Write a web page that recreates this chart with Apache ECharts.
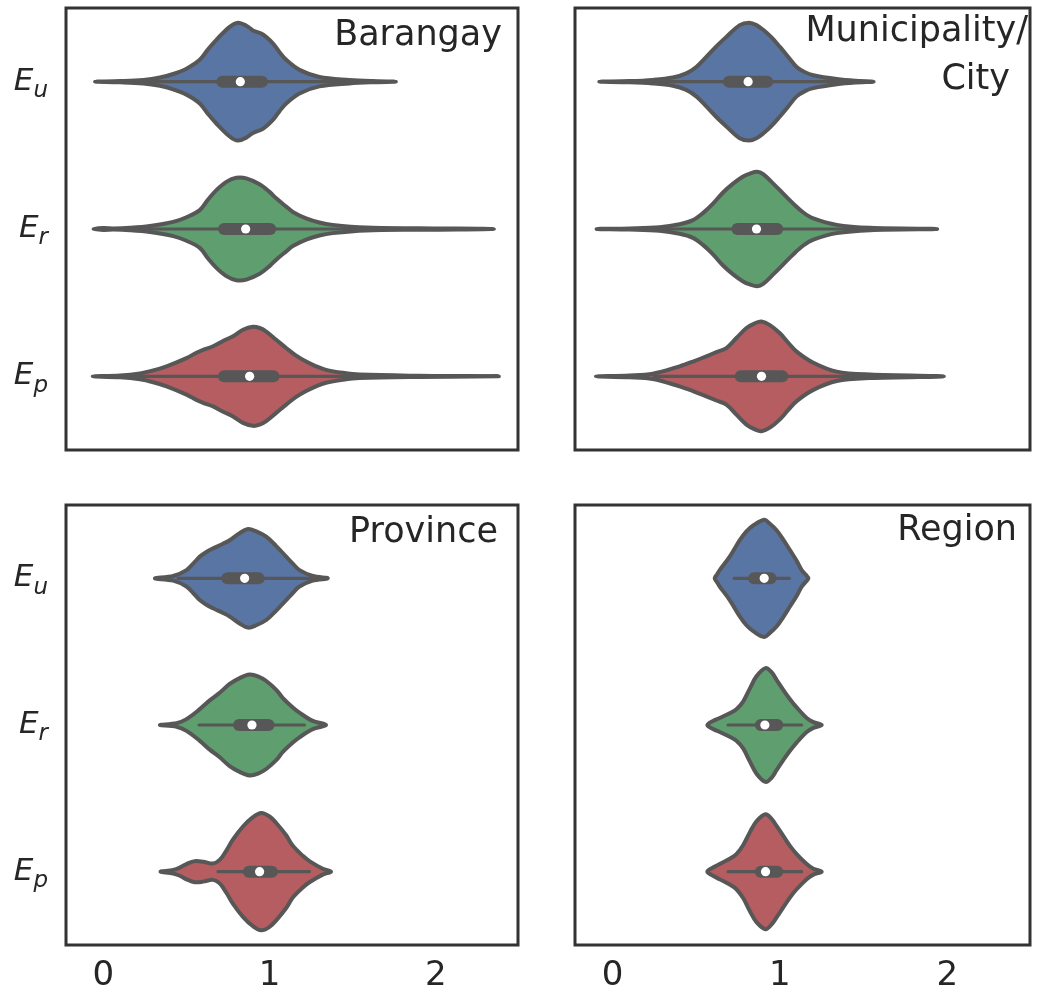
<!DOCTYPE html>
<html>
<head>
<meta charset="utf-8">
<script src="https://cdn.jsdelivr.net/npm/echarts@6/dist/echarts.min.js"></script>
<style>html,body{margin:0;padding:0;background:#fff}#c{width:1037px;height:993px}</style>
</head>
<body>
<div id="c"></div>
<script>
// ---------- data ----------
const categories = ['E_u', 'E_r', 'E_p'];
const panelTitles = ['Barangay', 'Municipality/', 'City', 'Province', 'Region'];
const xTicks = [0, 1, 2];

// violin profiles: [value, relative half-width (1 = widest)]
const barangayEu = [[-0.05,0],[0.1,0.01],[0.24,0.03],[0.34,0.07],[0.42,0.13],[0.5,0.22],[0.58,0.37],[0.63,0.55],[0.68,0.71],[0.76,0.93],[0.81,1.0],[0.86,0.95],[0.9,0.87],[0.96,0.8],[1.02,0.65],[1.06,0.5],[1.1,0.37],[1.18,0.2],[1.3,0.08],[1.48,0.03],[1.62,0.01],[1.76,0]];
const barangayEr = [[-0.06,0],[0.0,0.015],[0.06,0.01],[0.16,0.02],[0.28,0.05],[0.42,0.12],[0.5,0.2],[0.58,0.32],[0.63,0.5],[0.68,0.66],[0.74,0.8],[0.8,0.87],[0.86,0.86],[0.94,0.76],[1.0,0.63],[1.04,0.52],[1.1,0.38],[1.14,0.29],[1.22,0.18],[1.3,0.11],[1.38,0.07],[1.58,0.025],[1.9,0.012],[2.35,0]];
const barangayEp = [[-0.064,0],[0.1,0.015],[0.22,0.05],[0.3,0.1],[0.38,0.17],[0.5,0.31],[0.56,0.4],[0.6,0.45],[0.66,0.51],[0.72,0.6],[0.78,0.68],[0.84,0.79],[0.9,0.84],[0.94,0.82],[0.98,0.76],[1.04,0.62],[1.1,0.48],[1.16,0.35],[1.22,0.25],[1.28,0.17],[1.34,0.11],[1.44,0.06],[1.54,0.03],[1.9,0.01],[2.38,0]];
const municipalityEu = [[-0.08,0],[0.1,0.01],[0.24,0.03],[0.36,0.07],[0.44,0.14],[0.5,0.25],[0.56,0.42],[0.62,0.6],[0.68,0.76],[0.76,0.96],[0.816,1.0],[0.86,0.96],[0.9,0.88],[0.95,0.75],[1.0,0.59],[1.05,0.42],[1.1,0.25],[1.15,0.16],[1.2,0.11],[1.34,0.045],[1.45,0.015],[1.56,0]];
const municipalityEr = [[-0.096,0],[0.1,0.01],[0.28,0.03],[0.4,0.08],[0.48,0.15],[0.54,0.27],[0.6,0.43],[0.66,0.62],[0.72,0.77],[0.78,0.89],[0.82,0.94],[0.864,0.97],[0.9,0.93],[0.96,0.77],[1.02,0.6],[1.08,0.43],[1.14,0.28],[1.2,0.18],[1.34,0.07],[1.54,0.02],[1.94,0]];
const municipalityEp = [[-0.1,0],[0.1,0.015],[0.24,0.045],[0.4,0.17],[0.48,0.25],[0.56,0.34],[0.62,0.41],[0.68,0.48],[0.74,0.65],[0.8,0.82],[0.85,0.9],[0.89,0.93],[0.94,0.87],[1.0,0.73],[1.05,0.57],[1.1,0.42],[1.2,0.23],[1.34,0.08],[1.54,0.03],[1.98,0]];
const provinceEu = [[0.31,0],[0.42,0.04],[0.5,0.14],[0.55,0.28],[0.58,0.37],[0.62,0.45],[0.66,0.51],[0.72,0.59],[0.76,0.65],[0.82,0.77],[0.87,0.84],[0.92,0.8],[0.98,0.71],[1.04,0.55],[1.1,0.37],[1.14,0.25],[1.18,0.14],[1.26,0.04],[1.35,0]];
const provinceEr = [[0.34,0],[0.44,0.03],[0.5,0.1],[0.58,0.27],[0.64,0.42],[0.7,0.55],[0.76,0.7],[0.82,0.8],[0.88,0.86],[0.93,0.83],[0.98,0.75],[1.04,0.6],[1.08,0.46],[1.14,0.3],[1.18,0.21],[1.26,0.07],[1.34,0]];
const provinceEp = [[0.344,0],[0.42,0.03],[0.46,0.07],[0.5,0.13],[0.55,0.18],[0.6,0.17],[0.66,0.14],[0.7,0.2],[0.74,0.36],[0.78,0.55],[0.84,0.77],[0.9,0.93],[0.95,1.0],[1.0,0.94],[1.04,0.83],[1.1,0.62],[1.14,0.44],[1.2,0.27],[1.24,0.18],[1.32,0.05],[1.37,0]];
const regionEu = [[0.61,0],[0.625,0.07],[0.64,0.14],[0.7,0.37],[0.76,0.65],[0.8,0.8],[0.84,0.9],[0.906,1.0],[0.94,0.93],[0.98,0.82],[1.02,0.66],[1.06,0.48],[1.1,0.3],[1.13,0.14],[1.155,0.06],[1.17,0]];
const regionEr = [[0.566,0],[0.6,0.07],[0.64,0.12],[0.7,0.2],[0.74,0.27],[0.78,0.4],[0.82,0.62],[0.86,0.83],[0.914,0.97],[0.95,0.9],[0.98,0.77],[1.02,0.6],[1.06,0.44],[1.1,0.3],[1.16,0.12],[1.2,0.05],[1.25,0]];
const regionEp = [[0.566,0],[0.6,0.07],[0.64,0.13],[0.7,0.22],[0.74,0.3],[0.78,0.45],[0.82,0.67],[0.86,0.86],[0.914,0.98],[0.95,0.9],[0.98,0.78],[1.02,0.61],[1.06,0.44],[1.1,0.3],[1.16,0.13],[1.2,0.05],[1.25,0]];

// inner box stats: [whisker low, q1, median, q3, whisker high]
const barangayStats = [[0.22,0.68,0.824,0.99,1.45],[0.17,0.69,0.856,1.04,1.56],[0.14,0.69,0.88,1.06,1.6]];
const municipalityStats = [[0.21,0.66,0.81,0.96,1.41],[0.25,0.71,0.86,1.02,1.48],[0.25,0.73,0.89,1.05,1.53]];
const provinceStats = [[0.45,0.71,0.85,0.97,1.28],[0.576,0.78,0.894,1.03,1.21],[0.69,0.84,0.94,1.05,1.24]];
const regionStats = [[0.726,0.81,0.906,0.98,1.056],[0.69,0.85,0.91,1.02,1.13],[0.69,0.85,0.914,1.02,1.13]];

// ---------- style ----------
const fills = ['#5975a4', '#5f9e6e', '#b55d60'];
const lineGray = '#575757';
const textColor = '#262626';
const FONT = 'DejaVu Sans';
const titleFont = '35px "DejaVu Sans"';

const panels = [
  { profiles: [barangayEu, barangayEr, barangayEp], stats: barangayStats },
  { profiles: [municipalityEu, municipalityEr, municipalityEp], stats: municipalityStats },
  { profiles: [provinceEu, provinceEr, provinceEp], stats: provinceStats },
  { profiles: [regionEu, regionEr, regionEp], stats: regionStats }
];

const grids = [
  { left: 66, top: 8, width: 452, height: 442 },
  { left: 575, top: 8, width: 455, height: 442 },
  { left: 66, top: 505, width: 452, height: 442 },
  { left: 575, top: 505, width: 455, height: 442 }
];

function makeRender(panel) {
  return function (params, api) {
    const ci = api.value(0);
    const prof = panel.profiles[ci];
    const st = panel.stats[ci];
    const band = api.size([0, 1])[1];
    const half = band * 0.4;
    const top = prof.map(p => { const c = api.coord([p[0], ci]); return [c[0], c[1] - p[1] * half]; });
    const bot = [];
    for (let i = prof.length - 2; i >= 1; i--) {
      const c = api.coord([prof[i][0], ci]);
      bot.push([c[0], c[1] + prof[i][1] * half]);
    }
    const pts = top.concat(bot);
    const wl = api.coord([st[0], ci]);
    const q1 = api.coord([st[1], ci]);
    const md = api.coord([st[2], ci]);
    const q3 = api.coord([st[3], ci]);
    const wh = api.coord([st[4], ci]);
    const bh = 12;
    return {
      type: 'group',
      children: [
        { type: 'polygon', shape: { points: pts, smooth: 0.35 },
          style: { fill: fills[ci], stroke: lineGray, lineWidth: 4, lineJoin: 'round' } },
        { type: 'line', shape: { x1: wl[0], y1: wl[1], x2: wh[0], y2: wh[1] },
          style: { stroke: lineGray, lineWidth: 3.2, lineCap: 'round' } },
        { type: 'rect', shape: { x: q1[0], y: q1[1] - bh / 2, width: q3[0] - q1[0], height: bh, r: bh / 2 },
          style: { fill: lineGray } },
        { type: 'circle', shape: { cx: md[0], cy: md[1], r: 4.6 }, style: { fill: '#ffffff' } }
      ]
    };
  };
}

const option = {
  animation: false,
  backgroundColor: '#ffffff',
  grid: grids.map(g => Object.assign({ show: true, borderColor: '#333333', borderWidth: 3, backgroundColor: 'transparent' }, g)),
  xAxis: grids.map((g, i) => ({
    type: 'value', gridIndex: i, min: -0.225, max: 2.495,
    axisLine: { show: false }, axisTick: { show: false }, splitLine: { show: false },
    axisLabel: { show: i >= 2, customValues: xTicks, margin: 14, fontSize: 34, fontFamily: FONT, color: textColor }
  })),
  yAxis: grids.map((g, i) => ({
    type: 'category', gridIndex: i, data: categories, inverse: true,
    axisLine: { show: false }, axisTick: { show: false }, splitLine: { show: false },
    axisLabel: {
      show: i % 2 === 0, margin: 18,
      formatter: v => { const s = v.split('_'); return '{e|' + s[0] + '}{s|' + s[1] + '}'; },
      rich: {
        e: { fontSize: 31, fontStyle: 'italic', fontFamily: FONT, color: textColor, lineHeight: 42, verticalAlign: 'middle' },
        s: { fontSize: 23, fontStyle: 'italic', fontFamily: FONT, color: textColor, lineHeight: 42, verticalAlign: 'bottom' }
      }
    }
  })),
  series: panels.map((p, i) => ({
    type: 'custom', xAxisIndex: i, yAxisIndex: i,
    data: categories.map((c, k) => [k]),
    encode: { y: 0 },
    renderItem: makeRender(p)
  })),
  graphic: [
    { type: 'text', right: 1037 - 502, top: 18, style: { text: panelTitles[0], font: titleFont, fill: textColor } },
    { type: 'text', right: 1037 - 1028, top: 14, style: { text: panelTitles[1], font: titleFont, fill: textColor } },
    { type: 'text', right: 1037 - 1010, top: 62, style: { text: panelTitles[2], font: titleFont, fill: textColor } },
    { type: 'text', right: 1037 - 498, top: 515, style: { text: panelTitles[3], font: titleFont, fill: textColor } },
    { type: 'text', right: 1037 - 1017, top: 513, style: { text: panelTitles[4], font: titleFont, fill: textColor } }
  ]
};

const chart = echarts.init(document.getElementById('c'), null, { renderer: 'canvas' });
chart.setOption(option);
</script>
</body>
</html>
